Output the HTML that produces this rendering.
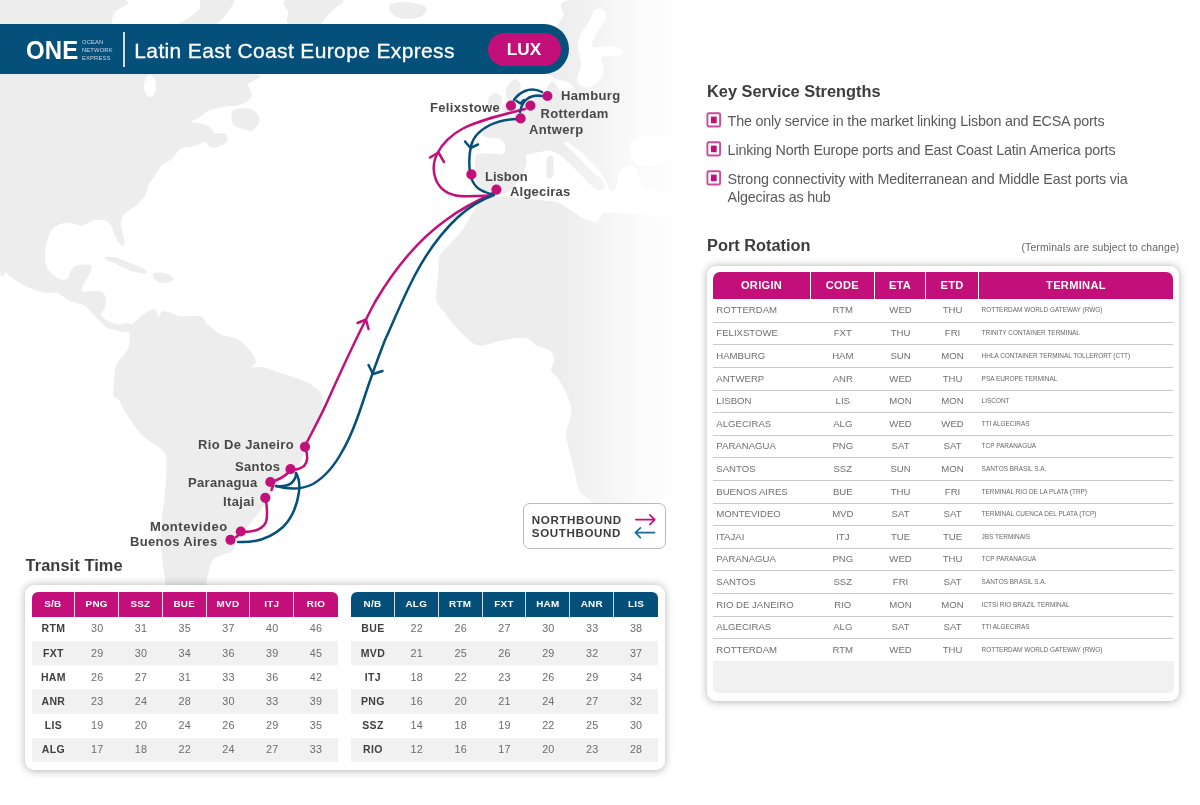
<!DOCTYPE html>
<html lang="en">
<head>
<meta charset="utf-8">
<title>Latin East Coast Europe Express (LUX) - Ocean Network Express</title>
<style>
*{box-sizing:border-box;margin:0;padding:0}
html,body{width:1200px;height:805px;overflow:hidden;background:#fff}
body{position:relative;font-family:"Liberation Sans",Arial,Helvetica,sans-serif;color:#4a4a4a}
.abs{position:absolute}
#map{position:absolute;left:0;top:0;width:1200px;height:805px}
#banner{position:absolute;left:0;top:24.2px;width:569.3px;height:49.8px;background:#05507a;border-radius:0 25px 25px 0}
#banner .divider{position:absolute;left:123px;top:8.3px;width:1.5px;height:35px;background:#cfdde7}
#banner .title{position:absolute;left:134.3px;top:0;height:50px;line-height:53.6px;font-size:21px;letter-spacing:.36px;-webkit-text-stroke:.3px #fff;color:#fff;white-space:nowrap}
#banner .one{position:absolute;left:26.2px;top:10.5px;font-size:26.6px;line-height:30px;font-weight:bold;color:#fff;transform:scaleX(.9);transform-origin:0 0;white-space:nowrap;letter-spacing:.2px}
#banner .sub{position:absolute;left:82px;top:15.2px;font-size:5.8px;line-height:7.75px;color:#c9d9e4;letter-spacing:.15px;white-space:nowrap}
#banner .lux{position:absolute;left:487.5px;top:8.5px;width:73px;height:33.5px;border-radius:17px;background:#c30f79;color:#fff;font-weight:bold;font-size:17.2px;line-height:33.6px;text-align:center;letter-spacing:0}
h2.h{position:absolute;font-weight:bold;font-size:16.35px;color:#3c3c3c;white-space:nowrap;line-height:20px}
.port{position:absolute;font-weight:bold;font-size:13px;letter-spacing:.35px;color:#484848;white-space:nowrap;line-height:16px}
.card{position:absolute;background:#fff;border-radius:9px;box-shadow:0 .5px 9px rgba(0,0,0,.3)}

table{border-collapse:separate;border-spacing:0}
.tt{position:absolute;table-layout:fixed;width:307px}
.tt th,.tt td{width:43.86px;padding:0;text-align:center;overflow:hidden;white-space:nowrap}
.tt thead th{height:24.6px;color:#fff;font-size:9.9px;font-weight:bold;border-right:1.6px solid rgba(255,255,255,.8);line-height:24px;padding-top:0;letter-spacing:.25px}
.tt thead th:last-child{border-right:0}
.tt.sb{width:306.4px}
.tt.sb th,.tt.sb td{width:43.77px}
.tt.sb thead th{background:#c30f79}
.tt.nb thead th{background:#05507a}
.tt thead th:first-child{border-radius:6px 0 0 0}
.tt thead th:last-child{border-radius:0 6px 0 0}
.tt tbody th{font-size:10.5px;font-weight:bold;color:#3f3f3f;height:24.22px;padding-bottom:1px;letter-spacing:.35px}
.tt tbody td{font-size:10.8px;color:#6c6c6c;height:24.22px;padding-bottom:1px;letter-spacing:.2px}
.tt tbody tr:nth-child(even) th,.tt tbody tr:nth-child(even) td{background:#f1f1f1}
.ktxt{position:absolute;left:727.6px;font-size:14.3px;line-height:17.7px;color:#595959;white-space:nowrap;letter-spacing:-.17px}
.note{position:absolute;font-size:10.4px;color:#666;white-space:nowrap;line-height:12px;letter-spacing:.13px}
.pr{position:absolute;table-layout:fixed;width:459.8px}
.pr th{height:27.5px;background:#c30f79;color:#fff;font-size:11.1px;font-weight:bold;text-align:center;border-right:1.7px solid #fff;padding:0;letter-spacing:.3px}
.pr th:last-child{border-right:0}
.pr th:first-child{border-radius:7px 0 0 0}
.pr th:last-child{border-radius:0 7px 0 0}
.pr th:nth-child(1){width:97.5px}.pr th:nth-child(2){width:64px}.pr th:nth-child(3){width:51.5px}.pr th:nth-child(4){width:52.5px}
.pr td{height:22.62px;padding:0 0 1.2px 0;font-size:9.6px;color:#707070;text-align:center;border-bottom:1px solid #c9c9c9;white-space:nowrap;overflow:hidden}
.pr tr:last-child td{border-bottom:0;height:21.5px;padding-bottom:0}
.pr tbody tr:first-child td{height:23.7px;padding-bottom:2px}
.pr td.o{text-align:left;padding-left:3px}
.pr td.t{text-align:left;padding-left:2.8px;font-size:6.45px;color:#666}
ul.ks,ul.ks li{list-style:none;margin:0;padding:0;position:static}
.ktxt{display:block}
</style>
</head>
<body>
<svg id="map" viewBox="0 0 1200 805">
<defs>
<linearGradient id="fade" x1="0" y1="0" x2="1" y2="0" gradientUnits="objectBoundingBox">
<stop offset="0" stop-color="#fff" stop-opacity="0"/>
<stop offset=".28" stop-color="#fff" stop-opacity=".4"/>
<stop offset=".57" stop-color="#fff" stop-opacity=".75"/>
<stop offset=".85" stop-color="#fff" stop-opacity=".95"/>
<stop offset="1" stop-color="#fff" stop-opacity="1"/>
</linearGradient>
</defs>
<g id="land" fill="#ededed" stroke="#ededed" stroke-width="1.5" stroke-linejoin="round">
<path d="M0.0,0.0C20.0,-41.7 101.0,-2.0 120.0,0.0C139.0,2.0 115.5,8.0 114.0,12.0C112.5,16.0 111.5,13.7 111.0,24.0C110.5,34.3 87.8,65.7 111.0,74.0C134.2,82.3 227.3,72.3 250.0,74.0C272.7,75.7 246.8,80.3 247.0,84.0C247.2,87.7 252.2,92.7 251.0,96.0C249.8,99.3 244.3,102.3 240.0,104.0C235.7,105.7 230.3,105.0 225.0,106.0C219.7,107.0 212.2,108.3 208.0,110.0C203.8,111.7 203.0,114.0 200.0,116.0C197.0,118.0 190.0,120.7 190.0,122.0C190.0,123.3 196.7,123.0 200.0,124.0C203.3,125.0 207.7,126.3 210.0,128.0C212.3,129.7 211.7,133.0 214.0,134.0C216.3,135.0 222.0,132.7 224.0,134.0C226.0,135.3 228.0,139.8 226.0,142.0C224.0,144.2 215.5,147.2 212.0,147.0C208.5,146.8 207.8,141.3 205.0,141.0C202.2,140.7 199.2,143.8 195.0,145.0C190.8,146.2 183.8,145.8 180.0,148.0C176.2,150.2 175.0,155.3 172.0,158.0C169.0,160.7 164.8,161.3 162.0,164.0C159.2,166.7 157.3,170.7 155.0,174.0C152.7,177.3 149.7,180.7 148.0,184.0C146.3,187.3 146.8,190.7 145.0,194.0C143.2,197.3 139.8,201.3 137.0,204.0C134.2,206.7 130.5,208.0 128.0,210.0C125.5,212.0 123.3,213.7 122.0,216.0C120.7,218.3 120.0,221.0 120.0,224.0C120.0,227.0 121.3,230.8 122.0,234.0C122.7,237.2 124.2,241.3 124.0,243.0C123.8,244.7 122.3,245.2 121.0,244.0C119.7,242.8 117.3,238.7 116.0,236.0C114.7,233.3 114.3,230.5 113.0,228.0C111.7,225.5 110.2,222.5 108.0,221.0C105.8,219.5 102.7,219.2 100.0,219.0C97.3,218.8 95.0,219.0 92.0,220.0C89.0,221.0 85.7,224.7 82.0,225.0C78.3,225.3 74.0,222.2 70.0,222.0C66.0,221.8 61.3,222.5 58.0,224.0C54.7,225.5 52.0,228.0 50.0,231.0C48.0,234.0 47.0,237.8 46.0,242.0C45.0,246.2 44.0,251.8 44.0,256.0C44.0,260.2 44.7,263.8 46.0,267.0C47.3,270.2 49.7,272.8 52.0,275.0C54.3,277.2 57.3,279.3 60.0,280.0C62.7,280.7 66.0,280.7 68.0,279.0C70.0,277.3 70.5,272.2 72.0,270.0C73.5,267.8 73.8,266.7 77.0,266.0C80.2,265.3 89.2,264.5 91.0,266.0C92.8,267.5 89.3,272.0 88.0,275.0C86.7,278.0 84.0,281.2 83.0,284.0C82.0,286.8 79.2,290.7 82.0,292.0C84.8,293.3 96.2,291.0 100.0,292.0C103.8,293.0 104.3,295.3 105.0,298.0C105.7,300.7 104.8,305.2 104.0,308.0C103.2,310.8 99.3,312.7 100.0,315.0C100.7,317.3 105.0,320.3 108.0,322.0C111.0,323.7 114.7,324.7 118.0,325.0C121.3,325.3 125.5,323.7 128.0,324.0C130.5,324.3 132.7,325.8 133.0,327.0C133.3,328.2 132.7,330.5 130.0,331.0C127.3,331.5 120.8,330.7 117.0,330.0C113.2,329.3 110.7,329.5 107.0,327.0C103.3,324.5 98.7,318.7 95.0,315.0C91.3,311.3 89.2,307.5 85.0,305.0C80.8,302.5 74.7,302.2 70.0,300.0C65.3,297.8 61.2,293.3 57.0,292.0C52.8,290.7 50.3,293.2 45.0,292.0C39.7,290.8 31.3,288.3 25.0,285.0C18.7,281.7 11.2,277.8 7.0,272.0C2.8,266.2 1.2,295.3 0.0,250.0C-1.2,204.7 -20.0,41.7 0.0,0.0Z"/>
<path d="M132.0,326.0C133.7,323.8 137.5,320.2 140.0,318.0C142.5,315.8 144.5,314.3 147.0,313.0C149.5,311.7 153.2,309.2 155.0,310.0C156.8,310.8 156.7,317.7 158.0,318.0C159.3,318.3 160.7,312.7 163.0,312.0C165.3,311.3 169.2,313.2 172.0,314.0C174.8,314.8 175.3,316.5 180.0,317.0C184.7,317.5 195.5,315.7 200.0,317.0C204.5,318.3 203.7,322.0 207.0,325.0C210.3,328.0 215.0,332.5 220.0,335.0C225.0,337.5 232.0,337.2 237.0,340.0C242.0,342.8 247.0,348.3 250.0,352.0C253.0,355.7 255.0,359.3 255.0,362.0C255.0,364.7 248.8,367.0 250.0,368.0C251.2,369.0 257.8,367.3 262.0,368.0C266.2,368.7 270.3,370.5 275.0,372.0C279.7,373.5 285.8,375.7 290.0,377.0C294.2,378.3 296.3,378.5 300.0,380.0C303.7,381.5 308.7,383.8 312.0,386.0C315.3,388.2 318.3,390.7 320.0,393.0C321.7,395.3 322.0,397.2 322.0,400.0C322.0,402.8 321.2,405.8 320.0,410.0C318.8,414.2 316.7,420.0 315.0,425.0C313.3,430.0 311.7,435.8 310.0,440.0C308.3,444.2 306.7,446.3 305.0,450.0C303.3,453.7 302.5,458.3 300.0,462.0C297.5,465.7 294.2,468.2 290.0,472.0C285.8,475.8 278.3,481.2 275.0,485.0C271.7,488.8 272.5,490.8 270.0,495.0C267.5,499.2 263.3,505.5 260.0,510.0C256.7,514.5 253.3,517.8 250.0,522.0C246.7,526.2 242.5,531.7 240.0,535.0C237.5,538.3 236.3,539.5 235.0,542.0C233.7,544.5 234.5,547.8 232.0,550.0C229.5,552.2 223.3,553.3 220.0,555.0C216.7,556.7 214.2,556.7 212.0,560.0C209.8,563.3 208.2,570.0 207.0,575.0C205.8,580.0 205.7,582.5 205.0,590.0C204.3,597.5 209.2,615.0 203.0,620.0C196.8,625.0 174.0,625.0 168.0,620.0C162.0,615.0 167.5,597.5 167.0,590.0C166.5,582.5 165.8,581.7 165.0,575.0C164.2,568.3 162.5,558.3 162.0,550.0C161.5,541.7 161.5,533.3 162.0,525.0C162.5,516.7 164.2,508.3 165.0,500.0C165.8,491.7 166.7,482.2 167.0,475.0C167.3,467.8 168.2,461.7 167.0,457.0C165.8,452.3 163.7,450.3 160.0,447.0C156.3,443.7 149.2,440.7 145.0,437.0C140.8,433.3 138.3,429.5 135.0,425.0C131.7,420.5 127.5,414.2 125.0,410.0C122.5,405.8 121.8,402.5 120.0,400.0C118.2,397.5 114.8,398.3 114.0,395.0C113.2,391.7 114.5,385.0 115.0,380.0C115.5,375.0 115.3,369.2 117.0,365.0C118.7,360.8 122.8,358.3 125.0,355.0C127.2,351.7 129.2,349.0 130.0,345.0C130.8,341.0 129.7,334.2 130.0,331.0C130.3,327.8 130.3,328.2 132.0,326.0Z"/>
<path d="M105.0,258.0C105.2,257.3 111.2,257.2 115.0,258.0C118.8,258.8 123.8,261.3 128.0,263.0C132.2,264.7 137.0,266.5 140.0,268.0C143.0,269.5 146.3,271.3 146.0,272.0C145.7,272.7 141.3,272.7 138.0,272.0C134.7,271.3 130.0,269.7 126.0,268.0C122.0,266.3 117.5,263.7 114.0,262.0C110.5,260.3 104.8,258.7 105.0,258.0Z"/>
<path d="M154.0,274.0C155.5,273.0 161.8,273.2 165.0,274.0C168.2,274.8 172.8,277.7 173.0,279.0C173.2,280.3 168.8,281.8 166.0,282.0C163.2,282.2 158.0,281.3 156.0,280.0C154.0,278.7 152.5,275.0 154.0,274.0Z"/>
<path d="M482.0,200.0C485.3,197.2 488.2,198.5 492.0,198.0C495.8,197.5 500.3,196.8 505.0,197.0C509.7,197.2 514.2,198.3 520.0,199.0C525.8,199.7 533.8,200.3 540.0,201.0C546.2,201.7 552.7,201.8 557.0,203.0C561.3,204.2 563.0,206.2 566.0,208.0C569.0,209.8 571.8,212.0 575.0,214.0C578.2,216.0 581.3,218.5 585.0,220.0C588.7,221.5 594.3,223.5 597.0,223.0C599.7,222.5 599.7,218.7 601.0,217.0C602.3,215.3 601.8,213.5 605.0,213.0C608.2,212.5 614.2,213.7 620.0,214.0C625.8,214.3 632.2,214.3 640.0,215.0C647.8,215.7 657.0,217.5 667.0,218.0C677.0,218.5 691.2,218.3 700.0,218.0C708.8,217.7 716.7,182.3 720.0,216.0C723.3,249.7 722.5,381.0 720.0,420.0C717.5,459.0 710.0,440.8 705.0,450.0C700.0,459.2 695.0,468.0 690.0,475.0C685.0,482.0 680.8,487.7 675.0,492.0C669.2,496.3 664.2,499.0 655.0,501.0C645.8,503.0 629.5,503.7 620.0,504.0C610.5,504.3 603.0,503.8 598.0,503.0C593.0,502.2 593.0,501.2 590.0,499.0C587.0,496.8 582.5,494.8 580.0,490.0C577.5,485.2 576.7,476.7 575.0,470.0C573.3,463.3 571.3,456.3 570.0,450.0C568.7,443.7 566.7,437.8 567.0,432.0C567.3,426.2 571.5,420.3 572.0,415.0C572.5,409.7 572.0,405.8 570.0,400.0C568.0,394.2 563.0,385.0 560.0,380.0C557.0,375.0 552.8,373.3 552.0,370.0C551.2,366.7 555.3,363.3 555.0,360.0C554.7,356.7 553.0,352.5 550.0,350.0C547.0,347.5 541.2,347.2 537.0,345.0C532.8,342.8 531.2,337.8 525.0,337.0C518.8,336.2 507.5,338.7 500.0,340.0C492.5,341.3 485.0,345.0 480.0,345.0C475.0,345.0 474.2,343.3 470.0,340.0C465.8,336.7 459.2,329.7 455.0,325.0C450.8,320.3 448.0,316.2 445.0,312.0C442.0,307.8 438.0,306.2 437.0,300.0C436.0,293.8 438.5,282.2 439.0,275.0C439.5,267.8 438.2,262.0 440.0,257.0C441.8,252.0 446.3,249.2 450.0,245.0C453.7,240.8 458.3,237.0 462.0,232.0C465.7,227.0 468.7,220.3 472.0,215.0C475.3,209.7 478.7,202.8 482.0,200.0Z"/>
<path d="M483.0,133.0C483.3,131.3 487.2,128.5 490.0,127.0C492.8,125.5 497.0,125.3 500.0,124.0C503.0,122.7 505.5,120.3 508.0,119.0C510.5,117.7 512.7,117.2 515.0,116.0C517.3,114.8 519.8,113.7 522.0,112.0C524.2,110.3 525.8,108.0 528.0,106.0C530.2,104.0 533.0,101.8 535.0,100.0C537.0,98.2 538.2,96.3 540.0,95.0C541.8,93.7 544.5,93.5 546.0,92.0C547.5,90.5 547.8,87.7 549.0,86.0C550.2,84.3 551.7,81.7 553.0,82.0C554.3,82.3 555.7,86.2 557.0,88.0C558.3,89.8 558.8,91.8 561.0,93.0C563.2,94.2 567.5,95.2 570.0,95.0C572.5,94.8 575.7,93.8 576.0,92.0C576.3,90.2 574.0,86.0 572.0,84.0C570.0,82.0 566.7,81.0 564.0,80.0C561.3,79.0 558.5,79.3 556.0,78.0C553.5,76.7 550.7,74.7 549.0,72.0C547.3,69.3 546.0,66.0 546.0,62.0C546.0,58.0 547.5,52.8 549.0,48.0C550.5,43.2 552.5,38.3 555.0,33.0C557.5,27.7 560.5,21.5 564.0,16.0C567.5,10.5 550.0,2.7 576.0,0.0C602.0,-2.7 696.0,-31.7 720.0,0.0C744.0,31.7 723.3,158.3 720.0,190.0C716.7,221.7 706.7,190.3 700.0,190.0C693.3,189.7 686.7,188.0 680.0,188.0C673.3,188.0 665.7,190.2 660.0,190.0C654.3,189.8 649.3,188.8 646.0,187.0C642.7,185.2 641.3,181.7 640.0,179.0C638.7,176.3 639.3,173.3 638.0,171.0C636.7,168.7 634.0,165.8 632.0,165.0C630.0,164.2 628.0,165.2 626.0,166.0C624.0,166.8 621.5,168.0 620.0,170.0C618.5,172.0 617.8,175.2 617.0,178.0C616.2,180.8 616.0,185.0 615.0,187.0C614.0,189.0 612.3,190.7 611.0,190.0C609.7,189.3 608.3,185.5 607.0,183.0C605.7,180.5 604.7,177.7 603.0,175.0C601.3,172.3 599.3,169.7 597.0,167.0C594.7,164.3 591.7,161.7 589.0,159.0C586.3,156.3 583.7,153.3 581.0,151.0C578.3,148.7 575.3,146.7 573.0,145.0C570.7,143.3 568.7,141.2 567.0,141.0C565.3,140.8 562.5,142.5 563.0,144.0C563.5,145.5 567.5,147.7 570.0,150.0C572.5,152.3 575.3,155.3 578.0,158.0C580.7,160.7 583.3,163.3 586.0,166.0C588.7,168.7 591.3,171.5 594.0,174.0C596.7,176.5 600.3,178.8 602.0,181.0C603.7,183.2 604.5,185.5 604.0,187.0C603.5,188.5 600.8,190.2 599.0,190.0C597.2,189.8 595.3,188.0 593.0,186.0C590.7,184.0 587.7,180.7 585.0,178.0C582.3,175.3 579.7,172.7 577.0,170.0C574.3,167.3 571.7,164.5 569.0,162.0C566.3,159.5 564.0,157.0 561.0,155.0C558.0,153.0 554.3,150.7 551.0,150.0C547.7,149.3 544.3,150.5 541.0,151.0C537.7,151.5 533.7,152.3 531.0,153.0C528.3,153.7 525.8,153.5 525.0,155.0C524.2,156.5 526.3,159.2 526.0,162.0C525.7,164.8 524.5,168.7 523.0,172.0C521.5,175.3 519.2,179.0 517.0,182.0C514.8,185.0 512.8,188.0 510.0,190.0C507.2,192.0 503.3,193.5 500.0,194.0C496.7,194.5 492.7,193.7 490.0,193.0C487.3,192.3 486.0,191.5 484.0,190.0C482.0,188.5 479.3,187.0 478.0,184.0C476.7,181.0 476.3,176.0 476.0,172.0C475.7,168.0 475.7,162.8 476.0,160.0C476.3,157.2 475.7,156.0 478.0,155.0C480.3,154.0 486.0,154.0 490.0,154.0C494.0,154.0 499.3,156.0 502.0,155.0C504.7,154.0 505.8,150.5 506.0,148.0C506.2,145.5 504.7,141.8 503.0,140.0C501.3,138.2 498.5,137.5 496.0,137.0C493.5,136.5 490.2,137.7 488.0,137.0C485.8,136.3 482.7,134.7 483.0,133.0Z"/>
<path d="M505.0,112.0C503.5,110.7 502.5,108.0 503.0,106.0C503.5,104.0 507.5,102.3 508.0,100.0C508.5,97.7 505.7,94.7 506.0,92.0C506.3,89.3 508.3,86.0 510.0,84.0C511.7,82.0 514.3,79.7 516.0,80.0C517.7,80.3 519.7,83.7 520.0,86.0C520.3,88.3 517.5,91.3 518.0,94.0C518.5,96.7 521.7,99.7 523.0,102.0C524.3,104.3 526.5,106.2 526.0,108.0C525.5,109.8 522.3,112.0 520.0,113.0C517.7,114.0 514.5,114.2 512.0,114.0C509.5,113.8 506.5,113.3 505.0,112.0Z"/>
<path d="M490.0,108.0C488.7,106.3 488.3,102.3 489.0,100.0C489.7,97.7 492.2,94.7 494.0,94.0C495.8,93.3 498.8,94.3 500.0,96.0C501.2,97.7 501.5,101.7 501.0,104.0C500.5,106.3 498.8,109.3 497.0,110.0C495.2,110.7 491.3,109.7 490.0,108.0Z"/>
<path d="M390.0,6.0C391.2,4.2 395.8,3.3 400.0,3.0C404.2,2.7 410.7,3.0 415.0,4.0C419.3,5.0 425.2,7.0 426.0,9.0C426.8,11.0 423.5,14.5 420.0,16.0C416.5,17.5 409.5,18.3 405.0,18.0C400.5,17.7 395.5,16.0 393.0,14.0C390.5,12.0 388.8,7.8 390.0,6.0Z"/>
<path d="M203.0,0.0C208.3,-1.7 227.8,-1.7 232.0,0.0C236.2,1.7 229.7,7.0 228.0,10.0C226.3,13.0 224.3,15.7 222.0,18.0C219.7,20.3 218.3,23.0 214.0,24.0C209.7,25.0 201.7,24.0 196.0,24.0C190.3,24.0 181.0,25.0 180.0,24.0C179.0,23.0 186.7,20.3 190.0,18.0C193.3,15.7 197.8,13.0 200.0,10.0C202.2,7.0 197.7,1.7 203.0,0.0Z"/>
<path d="M288.0,0.0C296.5,-2.0 332.3,-1.3 340.0,0.0C347.7,1.3 336.3,5.3 334.0,8.0C331.7,10.7 328.7,13.3 326.0,16.0C323.3,18.7 324.0,22.7 318.0,24.0C312.0,25.3 294.8,26.0 290.0,24.0C285.2,22.0 289.3,16.0 289.0,12.0C288.7,8.0 279.5,2.0 288.0,0.0Z"/>
<path d="M233.0,112.0C234.8,109.5 241.2,108.8 245.0,109.0C248.8,109.2 253.8,110.8 256.0,113.0C258.2,115.2 258.7,119.2 258.0,122.0C257.3,124.8 254.7,129.0 252.0,130.0C249.3,131.0 245.0,129.0 242.0,128.0C239.0,127.0 235.5,126.7 234.0,124.0C232.5,121.3 231.2,114.5 233.0,112.0Z"/>
<path d="M548.0,158.0C548.8,156.3 551.2,155.7 552.0,157.0C552.8,158.3 553.0,162.8 553.0,166.0C553.0,169.2 552.8,174.2 552.0,176.0C551.2,177.8 548.8,178.5 548.0,177.0C547.2,175.5 547.0,170.2 547.0,167.0C547.0,163.8 547.2,159.7 548.0,158.0Z"/>
<rect x="0" y="18" width="110" height="62" stroke="none"/><rect x="108" y="50" width="140" height="28" stroke="none"/>
<ellipse cx="150" cy="86" rx="6" ry="11" fill="#fff" stroke="none"/>
<path d="M596.0,9.0C598.0,8.0 602.3,8.5 604.0,10.0C605.7,11.5 606.7,15.0 606.0,18.0C605.3,21.0 601.8,24.8 600.0,28.0C598.2,31.2 596.3,34.0 595.0,37.0C593.7,40.0 591.2,44.3 592.0,46.0C592.8,47.7 596.7,47.0 600.0,47.0C603.3,47.0 608.3,45.7 612.0,46.0C615.7,46.3 620.5,47.5 622.0,49.0C623.5,50.5 623.3,53.8 621.0,55.0C618.7,56.2 611.3,55.5 608.0,56.0C604.7,56.5 601.7,55.7 601.0,58.0C600.3,60.3 604.2,66.3 604.0,70.0C603.8,73.7 602.3,77.2 600.0,80.0C597.7,82.8 593.2,86.0 590.0,87.0C586.8,88.0 583.2,87.5 581.0,86.0C578.8,84.5 577.0,81.2 577.0,78.0C577.0,74.8 580.5,70.7 581.0,67.0C581.5,63.3 580.5,59.5 580.0,56.0C579.5,52.5 578.0,49.3 578.0,46.0C578.0,42.7 578.7,39.3 580.0,36.0C581.3,32.7 584.0,29.3 586.0,26.0C588.0,22.7 590.3,18.8 592.0,16.0C593.7,13.2 594.0,10.0 596.0,9.0Z" fill="#fff" stroke="none"/>
<path d="M632.0,141.0C635.3,138.3 644.0,136.5 650.0,136.0C656.0,135.5 664.2,135.7 668.0,138.0C671.8,140.3 673.0,146.0 673.0,150.0C673.0,154.0 671.8,159.3 668.0,162.0C664.2,164.7 655.2,165.7 650.0,166.0C644.8,166.3 640.3,166.3 637.0,164.0C633.7,161.7 630.8,155.8 630.0,152.0C629.2,148.2 628.7,143.7 632.0,141.0Z" fill="#fff" stroke="none"/>
</g>
<rect x="560" y="0" width="140" height="805" fill="url(#fade)"/>
<rect x="699.5" y="0" width="501" height="805" fill="#fff"/>
</svg>

<div id="banner">
  <div class="one">ONE</div>
  <div class="sub">OCEAN<br>NETWORK<br>EXPRESS</div>
  <div class="title">Latin East Coast Europe Express</div>
  <div class="divider"></div>
  <div class="lux">LUX</div>
</div>

<svg class="abs" style="left:0;top:0" width="1200" height="805" viewBox="0 0 1200 805" fill="none" stroke-linecap="round" stroke-linejoin="round">
<g stroke="#c30f79" stroke-width="2.5">
<!-- northbound long -->
<path d="M305,446 C312,432 320,418 328,400 C345,362 360,330 375,302 C395,268 418,240 446,220 C462,208 478,200 494,193"/>
<path d="M357.5,323 L366,319.5 L368.5,329"/>
<!-- algeciras loop to north europe -->
<path d="M492,195.5 C480,196 468,196.5 460,196 C448,195 440,189 436,180 C432,170 433,162 437.5,153 C442,144 452,134 463,128.5 C478,120.5 500,115.5 525,109"/>
<path d="M430,157.5 L438.5,152.5 L444,162"/>
<!-- south america coastal -->
<path d="M305,447 C308,455 308,462 304,466 C300,469 296,470 291,470"/>
<path d="M289,472 C284,477 278,480 271,482"/>
<path d="M273,486 L271.5,490" />
<path d="M266,500 C267,508 268,516 266,522 C263,529 254,532 243,532"/>
<path d="M240,534 L236,537"/>
</g>
<g stroke="#05507a" stroke-width="2.5">
<!-- southbound long -->
<path d="M494,195 C480,200 468,208 458,217 C440,234 425,256 415,275 C402,300 392,325 385,340 C378,358 370,380 363.5,400 C357,420 350,438 343,450 C335,465 325,477 313,484 C303,489 290,490 276,486"/>
<path d="M368.5,365 L373,374 L382.5,371"/>
<!-- santos peak loop -->
<path d="M276,486 C284,487 291,485 294,480 C296,477 296.5,475 296,473"/>
<path d="M296,473 C299,478 300,484 299,492 C297,506 292,518 283,527 C272,537 256,543 238,542"/>
<!-- europe -->
<path d="M542,92 C536,89 530,89 525,91 C520,93 516,97 514,100"/>
<path d="M542,96 C536,95 531,96 527,99 C523,102 521,107 520,112"/>
<path d="M516.5,101 L520.5,103.5 L524,100"/>
<path d="M518,119 C508,119 498,121 490,125 C480,130 473,137 471,146 C469,155 469,165 470,172 C471,181 476,189 485,192 C488,193.5 491,194 494,194"/>
<path d="M465,141.5 L470.5,148 L478,144.5"/>
</g>
<g fill="#c30f79" stroke="none">
<circle cx="547.4" cy="96" r="5.1"/>
<circle cx="511" cy="105.6" r="5.1"/>
<circle cx="530.4" cy="105.6" r="5.1"/>
<circle cx="520.6" cy="118.4" r="5.1"/>
<circle cx="471.4" cy="174.4" r="5.1"/>
<circle cx="496.4" cy="189.6" r="5.1"/>
<circle cx="305" cy="446.8" r="5.1"/>
<circle cx="290.5" cy="469.2" r="5.1"/>
<circle cx="270.3" cy="482" r="5.1"/>
<circle cx="265.3" cy="497.8" r="5.1"/>
<circle cx="240.8" cy="531.5" r="5.1"/>
<circle cx="230.5" cy="539.8" r="5.1"/>
</g>
</svg>


<div class="port" style="left:561px;top:88px">Hamburg</div>
<div class="port" style="left:430px;top:100px">Felixstowe</div>
<div class="port" style="left:540.5px;top:105.5px">Rotterdam</div>
<div class="port" style="left:529px;top:122px">Antwerp</div>
<div class="port" style="left:485px;top:168.5px;letter-spacing:0">Lisbon</div>
<div class="port" style="left:510px;top:184px;letter-spacing:.2px">Algeciras</div>
<div class="port" style="left:198px;top:436.6px">Rio De Janeiro</div>
<div class="port" style="left:235px;top:458.6px">Santos</div>
<div class="port" style="left:188px;top:475px">Paranagua</div>
<div class="port" style="left:223px;top:494.4px">Itajai</div>
<div class="port" style="left:150px;top:518.5px;letter-spacing:.55px">Montevideo</div>
<div class="port" style="left:130px;top:533.5px">Buenos Aires</div>


<div class="abs" style="left:523px;top:503px;width:142.5px;height:46px;border:1px solid #b9b9b9;border-radius:7px;background:#fff"></div>
<div class="abs" style="left:531.8px;top:513.4px;font-weight:bold;font-size:11.6px;line-height:13.1px;letter-spacing:.62px;color:#3c3c3c;white-space:nowrap">NORTHBOUND<br>SOUTHBOUND</div>
<svg class="abs" style="left:630px;top:510px" width="32" height="32" viewBox="630 510 32 32" fill="none" stroke-width="1.6" stroke-linecap="round" stroke-linejoin="round">
<path d="M635.8,519.6 H654.6 M649.8,514.8 L654.8,519.6 L649.8,524.6" stroke="#c30f79"/>
<path d="M654.6,532.6 H635.6 M640.4,527.8 L635.4,532.6 L640.4,537.6" stroke="#1a6a96"/>
</svg>


<h2 class="h" style="left:25.5px;top:554.6px;letter-spacing:.1px">Transit Time</h2>
<div class="card" style="left:25px;top:585px;width:640px;height:185px"></div>
<table class="tt sb" style="left:31.5px;top:592.2px">
<thead><tr><th>S/B</th><th>PNG</th><th>SSZ</th><th>BUE</th><th>MVD</th><th>ITJ</th><th>RIO</th></tr></thead>
<tbody>
<tr><th>RTM</th><td>30</td><td>31</td><td>35</td><td>37</td><td>40</td><td>46</td></tr>
<tr><th>FXT</th><td>29</td><td>30</td><td>34</td><td>36</td><td>39</td><td>45</td></tr>
<tr><th>HAM</th><td>26</td><td>27</td><td>31</td><td>33</td><td>36</td><td>42</td></tr>
<tr><th>ANR</th><td>23</td><td>24</td><td>28</td><td>30</td><td>33</td><td>39</td></tr>
<tr><th>LIS</th><td>19</td><td>20</td><td>24</td><td>26</td><td>29</td><td>35</td></tr>
<tr><th>ALG</th><td>17</td><td>18</td><td>22</td><td>24</td><td>27</td><td>33</td></tr>
</tbody></table>
<table class="tt nb" style="left:351px;top:592.2px">
<thead><tr><th>N/B</th><th>ALG</th><th>RTM</th><th>FXT</th><th>HAM</th><th>ANR</th><th>LIS</th></tr></thead>
<tbody>
<tr><th>BUE</th><td>22</td><td>26</td><td>27</td><td>30</td><td>33</td><td>38</td></tr>
<tr><th>MVD</th><td>21</td><td>25</td><td>26</td><td>29</td><td>32</td><td>37</td></tr>
<tr><th>ITJ</th><td>18</td><td>22</td><td>23</td><td>26</td><td>29</td><td>34</td></tr>
<tr><th>PNG</th><td>16</td><td>20</td><td>21</td><td>24</td><td>27</td><td>32</td></tr>
<tr><th>SSZ</th><td>14</td><td>18</td><td>19</td><td>22</td><td>25</td><td>30</td></tr>
<tr><th>RIO</th><td>12</td><td>16</td><td>17</td><td>20</td><td>23</td><td>28</td></tr>
</tbody></table>


<h2 class="h" style="left:707px;top:81px">Key Service Strengths</h2>
<ul class="ks">
<li><svg class="abs" style="left:704px;top:109.55px" width="20" height="20" viewBox="0 0 20 20" aria-hidden="true"><rect x="3.4" y="3.2" width="12.7" height="13.3" rx="1.2" fill="#fff" stroke="#cb4a9a" stroke-width="1.9"/><rect x="6.9" y="6.6" width="5.8" height="6.6" fill="#c30f79"/></svg><span class="ktxt" style="top:113.0px">The only service in the market linking Lisbon and ECSA ports</span></li>
<li><svg class="abs" style="left:704px;top:138.90px" width="20" height="20" viewBox="0 0 20 20" aria-hidden="true"><rect x="3.4" y="3.2" width="12.7" height="13.3" rx="1.2" fill="#fff" stroke="#cb4a9a" stroke-width="1.9"/><rect x="6.9" y="6.6" width="5.8" height="6.6" fill="#c30f79"/></svg><span class="ktxt" style="top:142.0px">Linking North Europe ports and East Coast Latin America ports</span></li>
<li><svg class="abs" style="left:704px;top:168.00px" width="20" height="20" viewBox="0 0 20 20" aria-hidden="true"><rect x="3.4" y="3.2" width="12.7" height="13.3" rx="1.2" fill="#fff" stroke="#cb4a9a" stroke-width="1.9"/><rect x="6.9" y="6.6" width="5.8" height="6.6" fill="#c30f79"/></svg><span class="ktxt" style="top:171.0px">Strong connectivity with Mediterranean and Middle East ports via<br>Algeciras as hub</span></li>
</ul>


<h2 class="h" style="left:707px;top:235px">Port Rotation</h2>
<div class="note" style="left:1021.5px;top:242.3px">(Terminals are subject to change)</div>
<div class="card" style="left:707px;top:266px;width:472px;height:434.5px"></div>
<table class="pr" style="left:713.3px;top:271.5px">
<thead><tr><th>ORIGIN</th><th>CODE</th><th>ETA</th><th>ETD</th><th>TERMINAL</th></tr></thead>
<tbody>
<tr><td class="o">ROTTERDAM</td><td>RTM</td><td>WED</td><td>THU</td><td class="t">ROTTERDAM WORLD GATEWAY (RWG)</td></tr>
<tr><td class="o">FELIXSTOWE</td><td>FXT</td><td>THU</td><td>FRI</td><td class="t">TRINITY CONTAINER TERMINAL</td></tr>
<tr><td class="o">HAMBURG</td><td>HAM</td><td>SUN</td><td>MON</td><td class="t">HHLA CONTAINER TERMINAL TOLLERORT (CTT)</td></tr>
<tr><td class="o">ANTWERP</td><td>ANR</td><td>WED</td><td>THU</td><td class="t">PSA EUROPE TERMINAL</td></tr>
<tr><td class="o">LISBON</td><td>LIS</td><td>MON</td><td>MON</td><td class="t">LISCONT</td></tr>
<tr><td class="o">ALGECIRAS</td><td>ALG</td><td>WED</td><td>WED</td><td class="t">TTI ALGECIRAS</td></tr>
<tr><td class="o">PARANAGUA</td><td>PNG</td><td>SAT</td><td>SAT</td><td class="t">TCP PARANAGUA</td></tr>
<tr><td class="o">SANTOS</td><td>SSZ</td><td>SUN</td><td>MON</td><td class="t">SANTOS BRASIL S.A.</td></tr>
<tr><td class="o">BUENOS AIRES</td><td>BUE</td><td>THU</td><td>FRI</td><td class="t">TERMINAL RIO DE LA PLATA (TRP)</td></tr>
<tr><td class="o">MONTEVIDEO</td><td>MVD</td><td>SAT</td><td>SAT</td><td class="t">TERMINAL CUENCA DEL PLATA (TCP)</td></tr>
<tr><td class="o">ITAJAI</td><td>ITJ</td><td>TUE</td><td>TUE</td><td class="t">JBS TERMINAIS</td></tr>
<tr><td class="o">PARANAGUA</td><td>PNG</td><td>WED</td><td>THU</td><td class="t">TCP PARANAGUA</td></tr>
<tr><td class="o">SANTOS</td><td>SSZ</td><td>FRI</td><td>SAT</td><td class="t">SANTOS BRASIL S.A.</td></tr>
<tr><td class="o">RIO DE JANEIRO</td><td>RIO</td><td>MON</td><td>MON</td><td class="t">ICTSI RIO BRAZIL TERMINAL</td></tr>
<tr><td class="o">ALGECIRAS</td><td>ALG</td><td>SAT</td><td>SAT</td><td class="t">TTI ALGECIRAS</td></tr>
<tr><td class="o">ROTTERDAM</td><td>RTM</td><td>WED</td><td>THU</td><td class="t">ROTTERDAM WORLD GATEWAY (RWG)</td></tr>
</tbody></table>
<div class="abs" style="left:713px;top:661px;width:460.5px;height:32px;background:#f1f1f1;border-radius:0 0 6px 6px"></div>


</body>
</html>
